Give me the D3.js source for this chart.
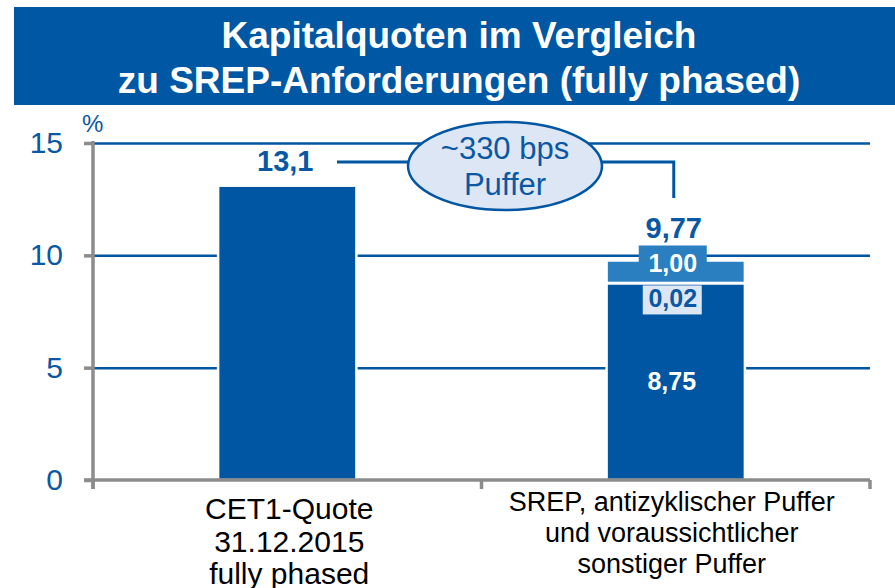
<!DOCTYPE html>
<html>
<head>
<meta charset="utf-8">
<script src="https://cdn.jsdelivr.net/npm/d3@7"></script>
<style>
  html, body { margin: 0; padding: 0; background: #fff; }
  svg { display: block; font-family: Arial, "Liberation Sans", sans-serif; }
</style>
</head>
<body>
<svg id="chart" width="895" height="588"></svg>
<script>
// ---- data ----
const titleLines = ["Kapitalquoten im Vergleich", "zu SREP-Anforderungen (fully phased)"];
const categories = ["CET1", "SREP"];
const categoryLabels = [
  ["CET1-Quote", "31.12.2015", "fully phased"],
  ["SREP, antizyklischer Puffer", "und voraussichtlicher", "sonstiger Puffer"]
];
const cet1Value = [13.1];
const srepSegments = [8.75, 0.02, 1.00];
const srepSegmentLabels = ["8,75", "0,02", "1,00"];
const totalLabels = ["13,1", "9,77"];
const yTicks = [0, 5, 10, 15];
const unitLabel = "%";
const bubbleLines = ["~330 bps", "Puffer"];

// ---- colors ----
const darkBlue = "#0056a2";
const midBlue = "#2a7fc0";
const paleBlue = "#dde6f5";
const textBlue = "#0a58a4";
const gray = "#8c8c8c";

const svg = d3.select("#chart");

// title
svg.append("rect").attr("x", 14).attr("y", 7).attr("width", 881).attr("height", 98).attr("fill", "#0057a3");
svg.append("text").attr("x", 459).attr("y", 48).attr("text-anchor", "middle")
  .attr("font-size", 37).attr("font-weight", "bold").attr("fill", "#fff").text(titleLines[0]);
svg.append("text").attr("x", 459).attr("y", 93).attr("text-anchor", "middle")
  .attr("font-size", 37).attr("font-weight", "bold").attr("fill", "#fff").text(titleLines[1]);

// scales
const plotL = 93, plotR = 870, plotT = 143, plotB = 480;
const y = d3.scaleLinear().domain([0, 15]).range([plotB, plotT]);
const x = d3.scaleBand().domain(categories).range([plotL, plotR]).padding(0);
const barW = x.bandwidth() * 0.356;
const cx = c => x(c) + x.bandwidth() / 2;

// gridlines
const grid = svg.append("g").attr("transform", `translate(${plotL},0)`)
  .call(d3.axisLeft(y).tickValues(yTicks.filter(v => v > 0)).tickSize(-(plotR - plotL)).tickFormat(""));
grid.select(".domain").remove();
grid.selectAll("line").attr("stroke", darkBlue).attr("stroke-width", 2.5);

// bar 1
svg.append("rect")
  .attr("x", cx("CET1") - barW / 2).attr("width", barW)
  .attr("y", y(cet1Value[0])).attr("height", y(0) - y(cet1Value[0]))
  .attr("fill", darkBlue).attr("stroke", "#fff").attr("stroke-width", 2.5);

// bar 2 stacked
const stackData = [];
let acc = 0;
srepSegments.forEach((v, i) => { stackData.push({ v, y0: acc, y1: acc + v, i }); acc += v; });
const segColors = [darkBlue, darkBlue, midBlue];
svg.append("g").selectAll("rect").data(stackData).join("rect")
  .attr("x", cx("SREP") - barW / 2).attr("width", barW)
  .attr("y", d => y(d.y1)).attr("height", d => y(d.y0) - y(d.y1))
  .attr("fill", d => segColors[d.i]).attr("stroke", "#fff").attr("stroke-width", d => d.i === 1 ? 0 : 2.5);

// label boxes for bar 2
const c2 = cx("SREP") - 3;
// 1,00 box
svg.append("rect").attr("x", c2 - 34).attr("y", y(acc) - 15).attr("width", 68).attr("height", 27)
  .attr("fill", midBlue);
svg.append("text").attr("x", c2).attr("y", y(acc) + 11).attr("text-anchor", "middle")
  .attr("font-size", 25).attr("font-weight", "bold").attr("fill", "#fff").text(srepSegmentLabels[2]);
// 0,02 box
svg.append("rect").attr("x", c2 - 30).attr("y", y(srepSegments[0]) + 2).attr("width", 59).attr("height", 29)
  .attr("fill", paleBlue);
svg.append("text").attr("x", c2).attr("y", y(srepSegments[0]) + 24).attr("text-anchor", "middle")
  .attr("font-size", 25).attr("font-weight", "bold").attr("fill", textBlue).text(srepSegmentLabels[1]);
// 8,75
svg.append("text").attr("x", c2 - 1).attr("y", y(srepSegments[0]) + 107).attr("text-anchor", "middle")
  .attr("font-size", 25).attr("font-weight", "bold").attr("fill", "#fff").text(srepSegmentLabels[0]);

// totals
svg.append("text").attr("x", cx("CET1") - 2).attr("y", 171).attr("text-anchor", "middle")
  .attr("font-size", 29).attr("font-weight", "bold").attr("fill", textBlue).text(totalLabels[0]);
svg.append("text").attr("x", c2 + 1).attr("y", y(acc) - 23).attr("text-anchor", "middle")
  .attr("font-size", 29).attr("font-weight", "bold").attr("fill", textBlue).text(totalLabels[1]);

// bubble + connectors
const ex = 505, ey = 166, rx = 97, ry = 44, lineY = 162;
svg.append("path")
  .attr("d", `M337,${lineY}H${ex - rx + 4}`)
  .attr("stroke", darkBlue).attr("stroke-width", 3).attr("fill", "none");
svg.append("path")
  .attr("d", `M${ex + rx - 4},${lineY}H${c2 + 1}V198`)
  .attr("stroke", darkBlue).attr("stroke-width", 3).attr("fill", "none");
svg.append("ellipse").attr("cx", ex).attr("cy", ey).attr("rx", rx).attr("ry", ry)
  .attr("fill", paleBlue).attr("stroke", darkBlue).attr("stroke-width", 2.5);
svg.append("text").attr("x", ex).attr("y", 159).attr("text-anchor", "middle")
  .attr("font-size", 31).attr("fill", textBlue).text(bubbleLines[0]);
svg.append("text").attr("x", ex).attr("y", 195).attr("text-anchor", "middle")
  .attr("font-size", 31).attr("fill", textBlue).text(bubbleLines[1]);

// y axis
const yAxis = svg.append("g").attr("transform", `translate(${plotL},0)`)
  .call(d3.axisLeft(y).tickValues(yTicks).tickSize(9).tickPadding(21).tickSizeOuter(0));
yAxis.select(".domain").remove();
yAxis.selectAll("line").attr("stroke", gray).attr("stroke-width", 3.5);
yAxis.selectAll("text").attr("font-size", 30).attr("fill", textBlue)
  .attr("font-family", "Arial, 'Liberation Sans', sans-serif");
svg.append("line").attr("x1", plotL).attr("x2", plotL).attr("y1", plotT - 2).attr("y2", plotB + 9)
  .attr("stroke", gray).attr("stroke-width", 3.5);
svg.append("text").attr("x", 82).attr("y", 132).attr("font-size", 24).attr("fill", textBlue).text(unitLabel);

// x axis
svg.append("line").attr("x1", 84).attr("x2", plotR).attr("y1", plotB).attr("y2", plotB)
  .attr("stroke", gray).attr("stroke-width", 3.5);
const xTickPos = categories.map(c => x(c)).concat([x(categories[categories.length - 1]) + x.bandwidth()]);
svg.append("g").selectAll("line").data(xTickPos).join("line")
  .attr("x1", d => d).attr("x2", d => d).attr("y1", plotB).attr("y2", plotB + 9)
  .attr("stroke", gray).attr("stroke-width", 3.5);

// category labels
const labelSizes = [30, 27];
const labelBase = [519, 511];
const labelStep = [32.5, 31];
categories.forEach((c, i) => {
  const t = svg.append("text").attr("text-anchor", "middle").attr("font-size", labelSizes[i]).attr("fill", "#000");
  categoryLabels[i].forEach((line, j) => {
    t.append("tspan").attr("x", cx(c) + (i === 0 ? 2 : -4)).attr("y", labelBase[i] + j * labelStep[i]).text(line);
  });
});
</script>
</body>
</html>
